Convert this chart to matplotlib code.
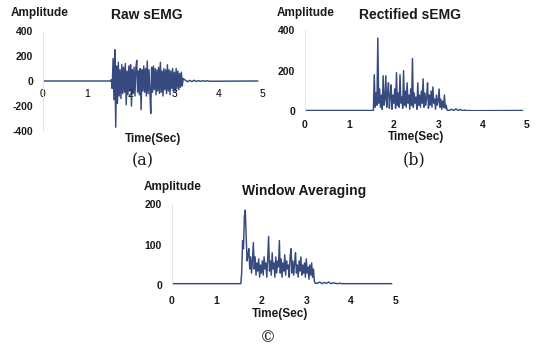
import matplotlib.pyplot as plt
import numpy as np

plt.rcParams['font.family'] = ['Liberation Sans', 'DejaVu Sans']
plt.rcParams['axes.unicode_minus'] = False

# sample period of the digitised bursts (seconds)
dt = 0.02
burst_start = 1.56
tail_start = 3.25
tail_dt = 0.05
end_time = 4.9

raw_burst = [10, -60, 180, -150, 250, -370, 120, -180, 150, -120, 90, -140, 130, -100,
             110, -90, 140, -190, 80, -110, 120, -80, 130, -200, 90, -100, 110, -120,
             100, 165, -90, 80, -110, 100, -230, 90, -80, 120, -90, 100, -120, 160,
             -100, 90, -80, -260, 110, -90, 120, -70, 100, -110, 90, -80, 110, -100,
             150, -90, 80, -120, 100, -70, 90, -100, 130, -80, 90, -110, 80, -60, 100,
             -90, 70, -80, 100, -60, 80, -70, 60, -50, 70, -40, 20]
raw_tail = [6, -6, 5, -5, 6, -4, 3, -3, 2, -2, 2, -2]

rect_burst = [180, 20, 90, 30, 360, 40, 110, 20, 80, 10, 175, 30, 60, 175, 20, 90,
              140, 15, 70, 130, 10, 80, 40, 110, 15, 190, 30, 90, 20, 180, 40, 70, 15,
              200, 30, 100, 20, 140, 40, 80, 10, 110, 30, 260, 20, 90, 40, 70, 10, 140,
              30, 80, 20, 100, 40, 160, 20, 90, 30, 70, 140, 15, 80, 30, 100, 20, 120,
              40, 60, 10, 80, 30, 50, 110, 20, 60, 10, 50, 20, 80, 15, 30, 5]
rect_tail = [4, 10, 3, 12, 4, 9, 3, 6, 3, 4, 3, 3]

avg_burst = [30, 110, 90, 170, 185, 120, 60, 75, 90, 40, 70, 30, 60, 105, 40, 70, 25,
             55, 35, 65, 20, 50, 30, 60, 25, 70, 40, 55, 20, 65, 120, 35, 60, 25, 80,
             40, 55, 20, 70, 30, 60, 45, 110, 30, 65, 20, 55, 35, 75, 25, 60, 40, 50,
             20, 70, 90, 30, 60, 25, 55, 80, 30, 50, 20, 60, 35, 70, 25, 50, 30, 55, 20,
             65, 30, 45, 15, 50, 25, 55, 20, 40, 10, 5]
avg_tail = [5, 8, 4, 7, 5, 8, 4, 6, 5, 4, 5, 4]

raw_base = 0
rect_base = 4
avg_base = 4

xticks = [0, 1, 2, 3, 4, 5]


def build(burst, tail, base):
    t_b = burst_start + dt * np.arange(len(burst))
    t_t = tail_start + tail_dt * np.arange(len(tail))
    t = np.concatenate([[0, burst_start - dt], t_b, t_t, [end_time]])
    y = np.concatenate([[base, base], burst, tail, [base]])
    return t, y


fig = plt.figure(figsize=(5.36, 3.48), dpi=100)
W, H = 536, 348


def px_axes(x0, x1, ytop, ybot):
    return fig.add_axes([x0 / W, 1 - ybot / H, (x1 - x0) / W, (ybot - ytop) / H])


line_col = '#132a6a'
txt_col = '#1a1a1a'

panels = [
    dict(box=(43, 262, 31, 131), data=(raw_burst, raw_tail, raw_base), ylim=(-400, 400),
         yticks=[-400, -200, 0, 200, 400], title='Raw sEMG', title_xy=(147, 15),
         amp=(11, 13), time=(153, 139), cap='(a)', cap_xy=(143, 161), mid=True, xpad=5.5),
    dict(box=(305, 527, 30, 111.3), data=(rect_burst, rect_tail, rect_base), ylim=(0, 400),
         yticks=[0, 200, 400], title='Rectified sEMG', title_xy=(410, 15),
         amp=(277, 13), time=(416, 137), cap='(b)', cap_xy=(414, 160), mid=False, xpad=6),
    dict(box=(171.7, 396, 204, 285.3), data=(avg_burst, avg_tail, avg_base), ylim=(0, 200),
         yticks=[0, 100, 200], title='Window Averaging', title_xy=(304, 191),
         amp=(144, 187), time=(280, 314), cap='\u00a9', cap_xy=(268, 338), mid=False, xpad=8),
]

for p in panels:
    ax = px_axes(*p['box'])
    t, y = build(*p['data'])
    ax.plot(t, y, color=line_col, lw=1.05, alpha=0.85)
    ax.set_xlim(0, 5)
    ax.set_ylim(*p['ylim'])
    ax.set_xticks(xticks)
    ax.set_yticks(p['yticks'])
    ax.tick_params(length=0, labelsize=7.5)
    ax.tick_params(axis='y', pad=7)
    ax.tick_params(axis='x', pad=p['xpad'])
    for lab in ax.get_xticklabels() + ax.get_yticklabels():
        lab.set_fontweight('bold')
        lab.set_color(txt_col)
    for s in ['top', 'right']:
        ax.spines[s].set_visible(False)
    ax.spines['left'].set_color('#e4e4e4')
    ax.spines['left'].set_linewidth(0.7)
    if p['mid']:
        ax.spines['bottom'].set_position(('data', 0))
    ax.spines['bottom'].set_visible(False)
    ax.patch.set_alpha(0)

    fig.text(p['amp'][0] / W, 1 - p['amp'][1] / H, 'Amplitude', fontsize=8.5,
             fontweight='bold', va='center', ha='left', color=txt_col)
    fig.text(p['title_xy'][0] / W, 1 - p['title_xy'][1] / H, p['title'],
             fontsize=10, fontweight='bold', va='center', ha='center', color=txt_col)
    fig.text(p['time'][0] / W, 1 - p['time'][1] / H, 'Time(Sec)', fontsize=8.5,
             fontweight='bold', va='center', ha='center', color=txt_col)
    fig.text(p['cap_xy'][0] / W, 1 - p['cap_xy'][1] / H, p['cap'], fontsize=11.5,
             family='DejaVu Serif', va='center', ha='center', color=txt_col)

fig.savefig('out.png', dpi=100, facecolor='white')
